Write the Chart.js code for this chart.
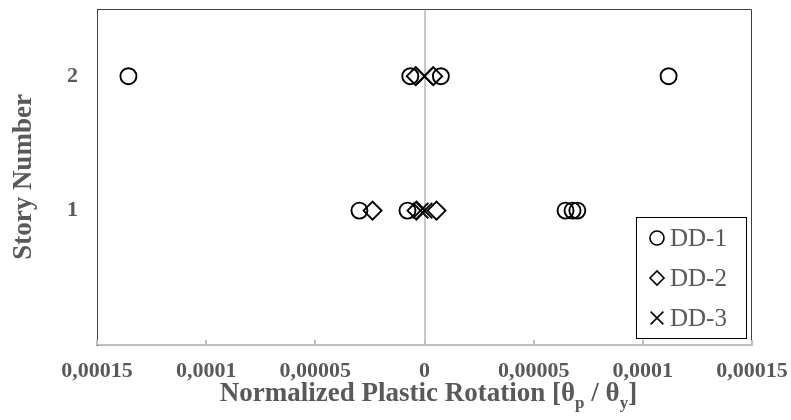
<!DOCTYPE html>
<html>
<head>
<meta charset="utf-8">
<script src="https://cdn.jsdelivr.net/npm/chart.js@4"></script>
<style>
  html, body { margin: 0; padding: 0; background: #fff; }
  #wrap { width: 791px; height: 420px; }
</style>
</head>
<body>
<div id="wrap"><canvas id="rotChart" width="791" height="420"></canvas></div>
<script>
// Datos (valor de rotación, piso)
const seriesNames = ["DD-1", "DD-2", "DD-3"];
const dd1X = [-0.0001356, -0.0000065, 0.0000075, 0.0001118, -0.0000298, -0.0000078, 0.0000646, 0.0000678, 0.0000700];
const dd1Y = [2, 2, 2, 2, 1, 1, 1, 1, 1];
const dd2X = [-0.0000040, 0.0000040, -0.0000238, -0.0000037, 0.0000055];
const dd2Y = [2, 2, 1, 1, 1];
const dd3X = [0, -0.0000018, 0];
const dd3Y = [2, 1, 1];
const xTickValues = [-0.00015, -0.0001, -0.00005, 0, 0.00005, 0.0001, 0.00015];
const xTickLabels = ["0,00015", "0,0001", "0,00005", "0", "0,00005", "0,0001", "0,00015"];
const yTickValues = [1, 2];

const greyText = "#595959";
const serif = "'Liberation Serif', 'Times New Roman', serif";

function toPoints(xs, ys) {
    return xs.map((x, i) => ({ x: x, y: ys[i] }));
}

// Caja del área de trazado + marcas hacia dentro + título X con subíndices
const framePlugin = {
    id: "frame",
    afterDatasetsDraw(chart) {
        const { ctx, chartArea: a, scales } = chart;
        ctx.save();
        ctx.strokeStyle = "#404040";
        ctx.lineWidth = 1;
        ctx.beginPath();
        ctx.moveTo(a.left + 0.5, a.bottom);
        ctx.lineTo(a.left + 0.5, a.top + 0.5);
        ctx.lineTo(a.right - 0.5, a.top + 0.5);
        ctx.lineTo(a.right - 0.5, a.bottom);
        ctx.stroke();
        ctx.strokeStyle = "#bfbfbf";
        ctx.lineWidth = 2;
        xTickValues.forEach(v => {
            const px = Math.round(scales.x.getPixelForValue(v));
            ctx.beginPath();
            ctx.moveTo(px, a.bottom);
            ctx.lineTo(px, a.bottom - 5);
            ctx.stroke();
        });

        // título del eje X: texto normal y subíndices
        const parts = [
            ["Normalized Plastic Rotation [θ", false],
            ["p", true],
            [" / θ", false],
            ["y", true],
            ["]", false]
        ];
        const big = "bold 27px " + serif, small = "bold 17px " + serif;
        let total = 0;
        parts.forEach(p => { ctx.font = p[1] ? small : big; total += ctx.measureText(p[0]).width; });
        let x = (a.left + a.right) / 2 + 4 - total / 2;
        const base = 401;
        ctx.fillStyle = greyText;
        ctx.textBaseline = "alphabetic";
        parts.forEach(p => {
            ctx.font = p[1] ? small : big;
            ctx.fillText(p[0], x, p[1] ? base + 7 : base);
            x += ctx.measureText(p[0]).width;
        });
        ctx.restore();
    }
};

// Leyenda con borde dentro del área
const boxLegendPlugin = {
    id: "boxLegend",
    afterDraw(chart) {
        const { ctx, chartArea: a } = chart;
        const w = 110, h = 121;
        const left = a.right - 116, top = a.bottom - 128;
        ctx.save();
        ctx.fillStyle = "#fff";
        ctx.fillRect(left, top, w, h);
        ctx.strokeStyle = "#000";
        ctx.lineWidth = 1;
        ctx.strokeRect(left + 0.5, top + 0.5, w, h);
        chart.data.datasets.forEach((ds, i) => {
            const cy = top + 21 + i * 40;
            const r = ds.pointStyle === "crossRot" ? 9 : 7;
            ctx.strokeStyle = "#000";
            ctx.fillStyle = "rgba(0,0,0,0)";
            ctx.lineWidth = 1.6;
            Chart.helpers.drawPoint(ctx, { pointStyle: ds.pointStyle, radius: r, rotation: 0, borderWidth: 1.6 }, left + 21, cy);
            ctx.fillStyle = greyText;
            ctx.font = "25px " + serif;
            ctx.textBaseline = "middle";
            ctx.fillText(ds.label, left + 34, cy + 1);
        });
        ctx.restore();
    }
};

const ctx = document.getElementById("rotChart").getContext("2d");
const rotChart = new Chart(ctx, {
    type: "scatter",
    data: {
        datasets: [
            { label: seriesNames[0], data: toPoints(dd1X, dd1Y), pointStyle: "circle", pointRadius: 8 },
            { label: seriesNames[1], data: toPoints(dd2X, dd2Y), pointStyle: "rectRot", pointRadius: 9 },
            { label: seriesNames[2], data: toPoints(dd3X, dd3Y), pointStyle: "crossRot", pointRadius: 11 }
        ].map(ds => Object.assign(ds, {
            borderColor: "#000",
            backgroundColor: "rgba(0,0,0,0)",
            pointBorderWidth: 1.9,
            pointHoverRadius: ds.pointRadius
        }))
    },
    options: {
        responsive: false,
        animation: false,
        layout: { autoPadding: false, padding: { top: 9, right: 39, left: 0, bottom: 0 } },
        plugins: {
            legend: { display: false },
            tooltip: { enabled: false }
        },
        scales: {
            x: {
                type: "linear",
                min: -0.00015,
                max: 0.00015,
                afterBuildTicks: scale => { scale.ticks = xTickValues.map(v => ({ value: v })); },
                afterFit: scale => {
                    scale.height = 75;
                    scale.paddingLeft = 0;
                    scale.paddingRight = 0;
                },
                ticks: {
                    callback: (v, i) => xTickLabels[i],
                    color: greyText,
                    font: { family: serif, size: 22, weight: "bold" },
                    padding: 13,
                    maxRotation: 0
                },
                grid: {
                    drawTicks: false,
                    color: c => (c.tick && c.tick.value === 0 ? "#c8c8c8" : "rgba(0,0,0,0)"),
                    lineWidth: 2
                },
                border: { color: "#bfbfbf", width: 2 }
            },
            y: {
                type: "linear",
                min: 0,
                max: 2.5,
                afterBuildTicks: scale => { scale.ticks = yTickValues.map(v => ({ value: v })); },
                afterFit: scale => {
                    scale.width = 97;
                    scale.paddingTop = 0;
                    scale.paddingBottom = 0;
                },
                ticks: {
                    color: greyText,
                    font: { family: serif, size: 22, weight: "bold" },
                    padding: 19
                },
                grid: { display: false, drawTicks: false },
                border: { color: "#404040", width: 1 },
                title: {
                    display: true,
                    text: "Story Number",
                    color: greyText,
                    font: { family: serif, size: 27, weight: "bold" },
                    padding: { top: 8, bottom: 0 }
                }
            }
        }
    },
    plugins: [framePlugin, boxLegendPlugin]
});
</script>
</body>
</html>
